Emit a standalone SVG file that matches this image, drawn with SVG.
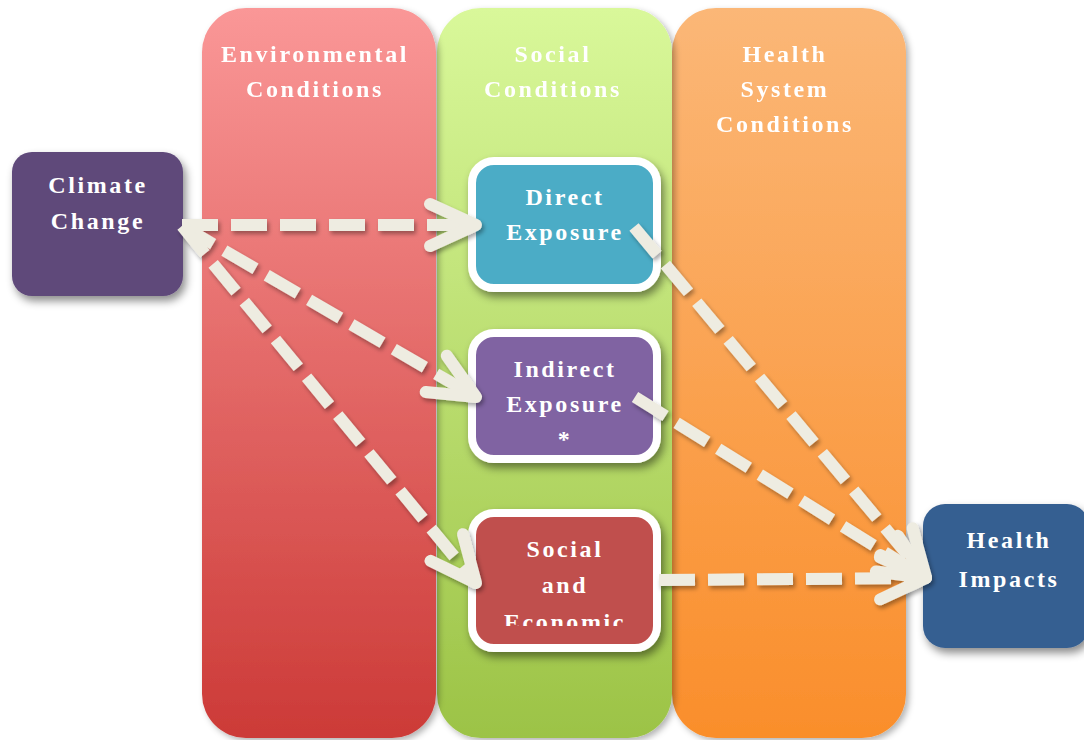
<svg xmlns="http://www.w3.org/2000/svg" width="1084" height="740" viewBox="0 0 1084 740">
  <defs>
    <linearGradient id="gEnv" x1="0" y1="0" x2="0" y2="1">
      <stop offset="0" stop-color="#FA9797"/>
      <stop offset="1" stop-color="#CC3A37"/>
    </linearGradient>
    <linearGradient id="gSoc" x1="0" y1="0" x2="0" y2="1">
      <stop offset="0" stop-color="#D9F89A"/>
      <stop offset="1" stop-color="#9CC346"/>
    </linearGradient>
    <linearGradient id="gHs" x1="0" y1="0" x2="0" y2="1">
      <stop offset="0" stop-color="#FBB777"/>
      <stop offset="1" stop-color="#FA8E2B"/>
    </linearGradient>
    <filter id="colShadow" x="-10%" y="-5%" width="125%" height="112%">
      <feDropShadow dx="3" dy="3" stdDeviation="3" flood-color="#000" flood-opacity="0.3"/>
    </filter>
    <filter id="boxShadow" x="-15%" y="-15%" width="135%" height="140%">
      <feDropShadow dx="3" dy="5" stdDeviation="4" flood-color="#000" flood-opacity="0.45"/>
    </filter>
    <filter id="lineShadow" x="-10%" y="-10%" width="125%" height="125%">
      <feDropShadow dx="2" dy="3" stdDeviation="2" flood-color="#000" flood-opacity="0.35"/>
    </filter>
    <filter id="txtShadow" x="-10%" y="-20%" width="120%" height="150%">
      <feDropShadow dx="1" dy="1" stdDeviation="1" flood-color="#000" flood-opacity="0.3"/>
    </filter>
    <clipPath id="clipEcon">
      <rect x="470" y="500" width="190" height="126"/>
    </clipPath>
    <marker id="head" markerUnits="userSpaceOnUse" markerWidth="120" markerHeight="120" refX="0" refY="0" orient="auto" overflow="visible" viewBox="-60 -60 120 120">
      <path d="M -46 -21 L 0 0 L -46 21" fill="none" stroke="#EEECE1" stroke-width="12" stroke-linecap="round" stroke-linejoin="round"/>
    </marker>
  </defs>
  <style>
    .lbl { font-family: "Liberation Serif", "Times New Roman", serif; font-weight: bold; font-size: 24px; letter-spacing: 2.6px; fill: #FFFFFF; text-anchor: middle; }
    .node { stroke: #FFFFFF; stroke-width: 8; }
    .link { fill: none; stroke: #EEECE1; stroke-width: 12; stroke-dasharray: 36 13; stroke-linecap: butt; marker-end: url(#head); }
  </style>

  <!-- Background columns: drawn right to left so each casts a shadow on its neighbour -->
  <g id="col-health-system" filter="url(#colShadow)">
    <rect x="672" y="8" width="234" height="730" rx="44" fill="url(#gHs)"/>
    <text class="lbl" x="785" y="62">Health</text>
    <text class="lbl" x="785" y="97">System</text>
    <text class="lbl" x="785" y="132">Conditions</text>
  </g>
  <g id="col-social" filter="url(#colShadow)">
    <rect x="437" y="8" width="235" height="730" rx="44" fill="url(#gSoc)"/>
    <text class="lbl" x="553" y="62">Social</text>
    <text class="lbl" x="553" y="97">Conditions</text>
  </g>
  <g id="col-environmental" filter="url(#colShadow)">
    <rect x="202" y="8" width="234" height="730" rx="44" fill="url(#gEnv)"/>
    <text class="lbl" x="315" y="62">Environmental</text>
    <text class="lbl" x="315" y="97">Conditions</text>
  </g>

  <!-- Nodes -->
  <g id="climate-change">
    <rect x="12" y="152" width="171" height="144" rx="20" fill="#5E487A" filter="url(#boxShadow)"/>
    <text class="lbl" x="98" y="193">Climate</text>
    <text class="lbl" x="98" y="229">Change</text>
  </g>
  <g id="direct-exposure">
    <rect class="node" x="472" y="161" width="185" height="127" rx="22" fill="#4BACC6" filter="url(#boxShadow)"/>
    <text class="lbl" x="565" y="205">Direct</text>
    <text class="lbl" x="565" y="240">Exposure</text>
  </g>
  <g id="indirect-exposure">
    <rect class="node" x="472" y="333" width="185" height="126" rx="22" fill="#8064A2" filter="url(#boxShadow)"/>
    <text class="lbl" x="565" y="377">Indirect</text>
    <text class="lbl" x="565" y="412">Exposure</text>
    <text class="lbl" x="565" y="447">*</text>
  </g>
  <g id="social-economic">
    <rect class="node" x="472" y="513" width="185" height="135" rx="22" fill="#C0504D" filter="url(#boxShadow)"/>
    <text class="lbl" x="565" y="557">Social</text>
    <text class="lbl" x="565" y="593">and</text>
    <text class="lbl" x="565" y="630" clip-path="url(#clipEcon)">Economic</text>
  </g>
  <g id="health-impacts">
    <rect x="923" y="504" width="166" height="144" rx="22" fill="#365F91" filter="url(#boxShadow)"/>
    <text class="lbl" x="1009" y="548">Health</text>
    <text class="lbl" x="1009" y="587">Impacts</text>
  </g>

  <!-- Dashed connectors with open arrowheads -->
  <g id="connectors" filter="url(#lineShadow)">
    <line class="link" x1="182" y1="225" x2="476" y2="225"/>
    <line class="link" x1="182" y1="226" x2="476" y2="397"/>
    <line class="link" x1="182" y1="226" x2="476" y2="583"/>
    <line class="link" x1="634" y1="227" x2="926" y2="577"/>
    <line class="link" x1="635" y1="397" x2="926" y2="578"/>
    <line class="link" x1="659" y1="580" x2="926" y2="578"/>
  </g>
</svg>
